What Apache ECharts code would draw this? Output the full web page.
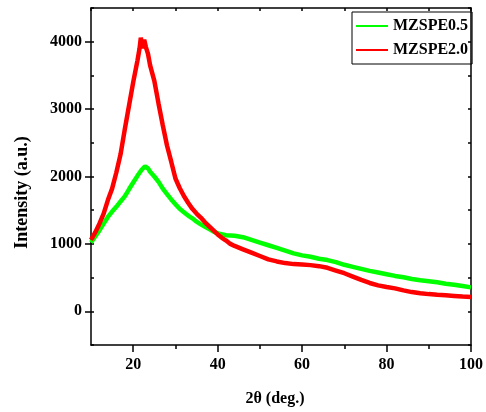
<!DOCTYPE html>
<html><head><meta charset="utf-8">
<script src="https://cdn.jsdelivr.net/npm/echarts@6/dist/echarts.min.js"></script>
<style>html,body{margin:0;padding:0;background:#fff}#c{width:486px;height:412px}</style>
</head><body><div id="c"></div>
<script>
const seriesNames = ['MZSPE0.5', 'MZSPE2.0'];
const angle05 = [10,11,12,13,14,15,16,17,18,19,20,21,22,22.8,23.5,24,25,26,27,28,29,30,31,32,33,34,35,36,37,38,39,40,42,44,46,48,50,52,54,56,58,60,62,64,66,68,70,72,74,76,78,80,82,84,86,88,90,92,94,96,98,100];
const int05 = [1020,1110,1200,1300,1400,1480,1550,1630,1705,1810,1910,2010,2100,2150,2120,2070,2000,1920,1820,1740,1660,1590,1520,1470,1420,1380,1330,1290,1255,1220,1185,1155,1130,1120,1100,1060,1020,980,940,900,860,830,810,780,760,730,690,660,630,600,575,550,525,505,480,460,445,430,410,395,375,355];
const angle20 = [10,11,12,13,14,15,16,17,18,19,20,21,21.5,21.8,22.2,22.6,23.0,23.5,24,25,26,27,28,29,30,31,32,33,34,35,36,37,38,39,40,41,42,43,44,46,48,50,52,54,56,58,60,62,64,66,68,70,72,74,76,78,80,82,84,86,88,90,92,94,96,98,100];
const int20 = [1060,1170,1300,1450,1650,1820,2060,2330,2700,3050,3400,3720,3900,4060,3900,4030,3920,3820,3650,3420,3080,2760,2460,2220,1970,1830,1710,1610,1520,1450,1390,1320,1260,1200,1140,1090,1050,1000,970,920,870,820,770,740,715,700,695,685,670,645,605,565,515,465,420,385,360,340,310,285,268,255,245,238,228,218,212];
const xTickLabels = [20, 40, 60, 80, 100];
const xMinorTicks = [30, 50, 70, 90];
const yTickLabels = [0, 1000, 2000, 3000, 4000];
const colors = ['#00ff00', '#ff0000'];

const FF = 'Liberation Serif';
const blk = {color: '#000', width: 1.5};
const zip = (a, b) => a.map((v, i) => [v, b[i]]);
const plain = v => String(v);

const chart = echarts.init(document.getElementById('c'));
chart.setOption({
  animation: false,
  backgroundColor: '#fff',
  grid: {left: 91, right: 11, top: 8, bottom: 67},
  legend: {
    data: seriesNames, orient: 'vertical', left: 352, top: 12,
    icon: 'rect', itemWidth: 32, itemHeight: 2, itemGap: 8,
    borderColor: '#000', borderWidth: 1, padding: [6, 4, 6, 4],
    textStyle: {fontFamily: FF, fontWeight: 'bold', fontSize: 16, color: '#000'}
  },
  xAxis: [
    {type: 'value', min: 10, max: 100, interval: 10, position: 'bottom',
     axisLine: {onZero: false, lineStyle: blk},
     axisTick: {customValues: xTickLabels, length: 7, lineStyle: blk},
     axisLabel: {customValues: xTickLabels, formatter: plain, fontFamily: FF, fontWeight: 'bold', fontSize: 16, color: '#000', margin: 12},
     splitLine: {show: false},
     name: '2θ (deg.)', nameLocation: 'middle', nameGap: 46,
     nameTextStyle: {fontFamily: FF, fontWeight: 'bold', fontSize: 16, color: '#000', padding: [0, 12, 0, 0]}},
    {type: 'value', min: 10, max: 100, position: 'bottom',
     axisLine: {show: false, onZero: false},
     axisTick: {customValues: xMinorTicks, length: 4, lineStyle: blk},
     axisLabel: {show: false}, splitLine: {show: false}},
    {type: 'value', min: 10, max: 100, interval: 10, position: 'top',
     axisLine: {onZero: false, lineStyle: blk},
     axisTick: {inside: true, length: 3, lineStyle: blk},
     axisLabel: {show: false}, splitLine: {show: false}}
  ],
  yAxis: [
    {type: 'value', min: -500, max: 4500, interval: 500, position: 'left',
     axisLine: {show: true, onZero: false, lineStyle: blk},
     axisTick: {show: true, customValues: yTickLabels, length: 6, lineStyle: blk},
     axisLabel: {customValues: yTickLabels, formatter: plain, fontFamily: FF, fontWeight: 'bold', fontSize: 16, color: '#000', margin: 9},
     splitLine: {show: false},
     name: 'Intensity (a.u.)', nameLocation: 'middle', nameGap: 60,
     nameTextStyle: {fontFamily: FF, fontWeight: 'bold', fontSize: 18, color: '#000', padding: [0, 32, 0, 0]}},
    {type: 'value', min: -500, max: 4500, interval: 500, position: 'left',
     axisLine: {show: false, onZero: false},
     axisTick: {show: true, inside: true, length: 3, lineStyle: blk},
     axisLabel: {show: false}, splitLine: {show: false}},
    {type: 'value', min: -500, max: 4500, interval: 500, position: 'right',
     axisLine: {show: true, onZero: false, lineStyle: blk},
     axisTick: {show: true, inside: true, length: 3, lineStyle: blk},
     axisLabel: {show: false}, splitLine: {show: false}}
  ],
  series: [
    {name: seriesNames[0], type: 'line', xAxisIndex: 0, yAxisIndex: 0, showSymbol: false,
     data: zip(angle05, int05), lineStyle: {color: colors[0], width: 4.5}, itemStyle: {color: colors[0]}},
    {name: seriesNames[1], type: 'line', xAxisIndex: 0, yAxisIndex: 0, showSymbol: false,
     data: zip(angle20, int20), lineStyle: {color: colors[1], width: 4.5}, itemStyle: {color: colors[1]}}
  ]
});
</script></body></html>
